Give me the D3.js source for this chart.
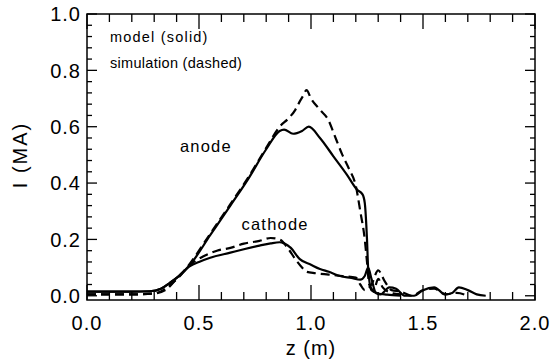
<!DOCTYPE html>
<html><head><meta charset="utf-8">
<script src="https://cdn.jsdelivr.net/npm/d3@7"></script>
<style>
html,body{margin:0;padding:0;background:#fff;}
text{font-family:"Liberation Sans",Arial,sans-serif;fill:#000;}
</style></head>
<body><svg id="c" width="551" height="364"></svg>
<script>
// ---- data ----
const anodeModelZ = [0, 0.1, 0.2, 0.28, 0.33, 0.37, 0.41, 0.46, 0.55, 0.64, 0.72, 0.8, 0.86, 0.88, 0.92, 0.96, 0.99, 1.04, 1.1, 1.16, 1.205, 1.23, 1.24, 1.25, 1.255, 1.27, 1.3, 1.34, 1.4];
const anodeModelI = [0.015, 0.015, 0.015, 0.016, 0.025, 0.046, 0.07, 0.11, 0.215, 0.32, 0.415, 0.52, 0.585, 0.59, 0.575, 0.585, 0.60, 0.56, 0.495, 0.43, 0.377, 0.36, 0.33, 0.2, 0.10, 0.02, 0.008, 0.004, 0.0];
const anodeSimZ = [0, 0.1, 0.2, 0.3, 0.34, 0.38, 0.42, 0.46, 0.55, 0.64, 0.72, 0.8, 0.86, 0.9, 0.93, 0.95, 0.965, 0.98, 1.0, 1.04, 1.08, 1.1, 1.14, 1.17, 1.2, 1.22, 1.24, 1.25, 1.26, 1.28, 1.3, 1.32, 1.36, 1.4];
const anodeSimI = [0.005, 0.005, 0.005, 0.008, 0.02, 0.045, 0.075, 0.115, 0.22, 0.325, 0.42, 0.525, 0.6, 0.63, 0.66, 0.69, 0.71, 0.73, 0.70, 0.66, 0.62, 0.58, 0.50, 0.45, 0.39, 0.30, 0.20, 0.12, 0.04, 0.02, 0.06, 0.03, 0.01, 0.005];
const cathodeModelZ = [0, 0.1, 0.2, 0.28, 0.33, 0.37, 0.41, 0.46, 0.5, 0.55, 0.64, 0.7, 0.77, 0.82, 0.86, 0.88, 0.91, 0.95, 1.0, 1.04, 1.08, 1.13, 1.18, 1.22, 1.24, 1.255, 1.27, 1.29, 1.31, 1.35, 1.38, 1.42, 1.46, 1.5, 1.55, 1.6, 1.63, 1.66, 1.7, 1.74, 1.78];
const cathodeModelI = [0.015, 0.015, 0.015, 0.016, 0.025, 0.046, 0.07, 0.105, 0.12, 0.135, 0.153, 0.165, 0.178, 0.186, 0.19, 0.186, 0.17, 0.13, 0.11, 0.095, 0.085, 0.07, 0.063, 0.057, 0.07, 0.10, 0.06, 0.01, 0.005, 0.03, 0.025, 0.0, 0.0, 0.02, 0.03, 0.005, 0.01, 0.03, 0.02, 0.005, 0.0];
const cathodeSimZ = [0, 0.1, 0.2, 0.3, 0.35, 0.4, 0.46, 0.52, 0.58, 0.64, 0.7, 0.77, 0.82, 0.86, 0.9, 0.93, 0.96, 0.98, 1.02, 1.08, 1.14, 1.2, 1.22, 1.24, 1.27, 1.3, 1.33, 1.36, 1.4, 1.45, 1.5, 1.55, 1.6, 1.65, 1.7];
const cathodeSimI = [0.005, 0.005, 0.005, 0.008, 0.02, 0.06, 0.11, 0.14, 0.16, 0.17, 0.185, 0.195, 0.205, 0.2, 0.165, 0.13, 0.1, 0.085, 0.08, 0.075, 0.07, 0.065, 0.04, 0.02, 0.04, 0.09, 0.05, 0.02, 0.015, 0.0, 0.02, 0.025, 0.005, 0.01, 0.0];
const xTickValues = [0, 0.5, 1.0, 1.5, 2.0];
const xTickLabels = ["0.0", "0.5", "1.0", "1.5", "2.0"];
const yTickValues = [0, 0.2, 0.4, 0.6, 0.8, 1.0];
const yTickLabels = ["0.0", "0.2", "0.4", "0.6", "0.8", "1.0"];
const xTitle = "z (m)";
const yTitle = "I (MA)";
const notes = ["model (solid)", "simulation (dashed)"];
const curveLabels = [{t: "anode", z: 0.415, i: 0.51}, {t: "cathode", z: 0.69, i: 0.235}];

// ---- layout ----
const L = 87, R = 535, T = 14, B = 300;
const x = d3.scaleLinear().domain([0, 2]).range([L, R]);
const y = d3.scaleLinear().domain([-0.015, 1.0]).range([B, T]);
const svg = d3.select("#c");

// frame
svg.append("rect").attr("x", L).attr("y", T).attr("width", R - L).attr("height", B - T)
  .attr("fill", "none").attr("stroke", "#000").attr("stroke-width", 1.5);

// ticks (inward)
const xMinor = d3.range(0, 2.0001, 0.1);
const yMinor = d3.range(0, 1.0001, 0.04);
const tk = svg.append("g").attr("stroke", "#000").attr("stroke-width", 1.3);
xMinor.forEach(v => {
  const major = xTickValues.some(m => Math.abs(m - v) < 1e-6);
  const len = major ? 15 : 8;
  tk.append("line").attr("x1", x(v)).attr("x2", x(v)).attr("y1", B).attr("y2", B - len);
  tk.append("line").attr("x1", x(v)).attr("x2", x(v)).attr("y1", T).attr("y2", T + len);
});
yMinor.forEach(v => {
  const major = yTickValues.some(m => Math.abs(m - v) < 1e-6);
  const len = major ? 10 : 5;
  tk.append("line").attr("x1", L).attr("x2", L + len).attr("y1", y(v)).attr("y2", y(v));
  tk.append("line").attr("x1", R).attr("x2", R - len).attr("y1", y(v)).attr("y2", y(v));
});

// tick labels
svg.append("g").selectAll("text").data(xTickValues).join("text")
  .attr("x", d => x(d)).attr("y", 330).attr("text-anchor", "middle")
  .attr("font-size", 20).attr("letter-spacing", 1)
  .text((d, i) => xTickLabels[i]);
svg.append("g").selectAll("text").data(yTickValues).join("text")
  .attr("x", 81).attr("y", d => y(d)).attr("dy", "0.36em").attr("text-anchor", "end")
  .attr("font-size", 20).attr("letter-spacing", 1)
  .text((d, i) => yTickLabels[i]);

// titles
svg.append("text").attr("x", x(1.0)).attr("y", 355).attr("text-anchor", "middle")
  .attr("font-size", 20).attr("letter-spacing", 1).text(xTitle);
svg.append("text").attr("transform", "translate(27,155) rotate(-90)").attr("text-anchor", "middle")
  .attr("font-size", 20).attr("letter-spacing", 2).text(yTitle);

// notes
svg.append("text").attr("x", 110).attr("y", 42).attr("font-size", 14.5).attr("letter-spacing", 1.2).text(notes[0]);
svg.append("text").attr("x", 110).attr("y", 68).attr("font-size", 14.5).attr("letter-spacing", 0.3).text(notes[1]);
curveLabels.forEach(c => {
  svg.append("text").attr("x", x(c.z)).attr("y", y(c.i)).attr("font-size", 16.5).attr("letter-spacing", 1.2).text(c.t);
});

// curves
const line = d3.line().x(d => x(d[0])).y(d => y(d[1])).curve(d3.curveMonotoneX);
function draw(zs, is, dashed) {
  svg.append("path").datum(zs.map((z, k) => [z, is[k]]))
    .attr("d", line).attr("fill", "none").attr("stroke", "#000")
    .attr("stroke-width", 2.2)
    .attr("stroke-dasharray", dashed ? "9,5" : null);
}
draw(anodeModelZ, anodeModelI, false);
draw(cathodeModelZ, cathodeModelI, false);
draw(anodeSimZ, anodeSimI, true);
draw(cathodeSimZ, cathodeSimI, true);
</script></body></html>
